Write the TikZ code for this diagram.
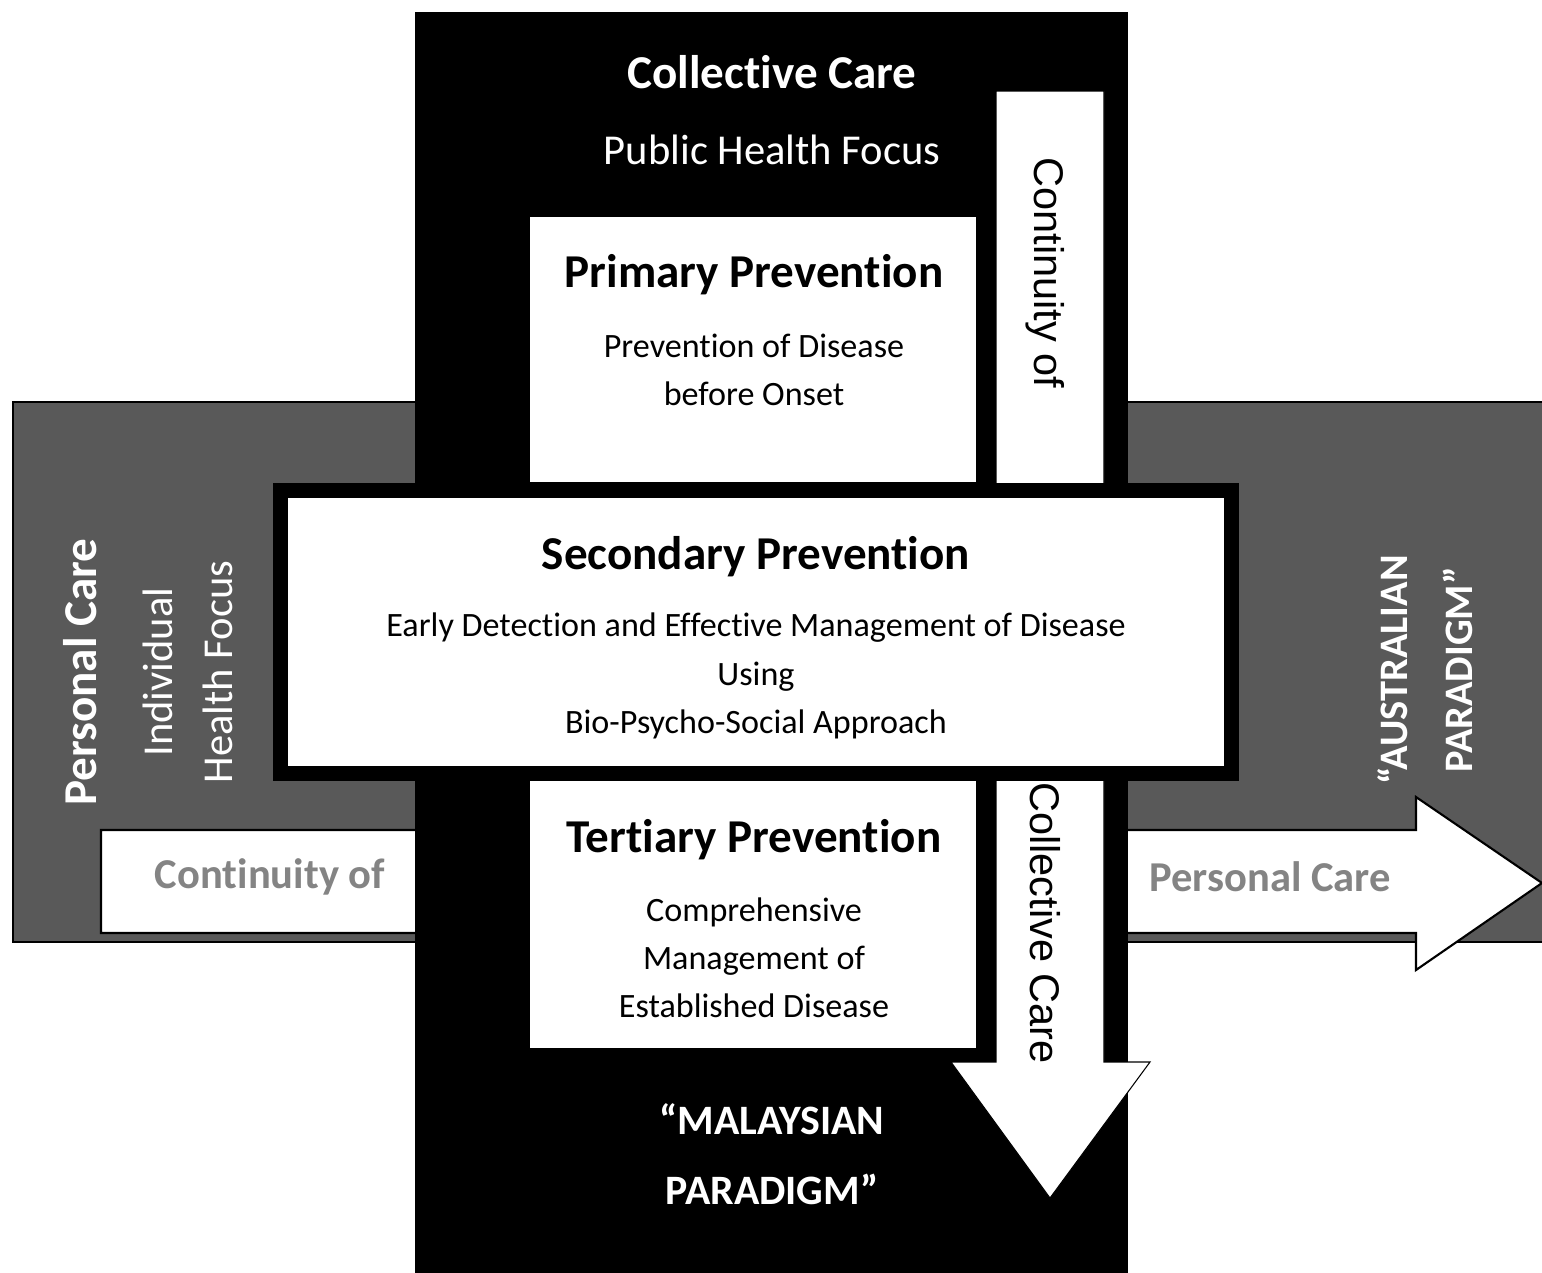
\documentclass[tikz,border=0pt]{standalone}
\usepackage{fontspec}
\setmainfont{Carlito}[Ligatures=NoCommon]
\newfontfamily\arialfont{Liberation Sans}
\usepackage{xcolor}
\usetikzlibrary{positioning}
\definecolor{bandgrey}{HTML}{595959}
\definecolor{textgrey}{HTML}{848484}

\begin{document}
\begin{tikzpicture}[x=0.01cm,y=-0.01cm,
    head/.style={font=\fontsize{13.4}{16}\selectfont\bfseries},
    body/.style={font=\fontsize{9.7}{13.7}\selectfont,align=center},
    label/.style={font=\fontsize{12.1}{17}\selectfont,align=center,text=white},
    blocktext/.style={font=\fontsize{12.1}{17}\selectfont\bfseries,text=textgrey},
    striptext/.style={font=\arialfont\fontsize{11.8}{14}\selectfont},
    whitebox/.style={fill=white,draw=black,line width=0.3pt}]
    \useasboundingbox (0,0) rectangle (1542,1272);
    % grey band and the arrow through it
    \draw[fill=bandgrey,line width=0.6pt] (13,402) rectangle (1560,942);
    \draw[whitebox,line width=0.6pt] (101,830) -- (1416,830) -- (1416,797)
        -- (1542,883) -- (1416,970) -- (1416,933) -- (101,933) -- cycle;
    % black column
    \fill[black] (415,12) rectangle (1128,1290);
    \draw[whitebox] (996,91) -- (1104,91) -- (1104,1062) -- (1150,1062)
        -- (1050,1198) -- (951,1062) -- (996,1062) -- cycle;
    % the three prevention boxes
    \draw[whitebox] (529,216) rectangle (977,483);
    \draw[whitebox] (529,780) rectangle (977,1049);
    \draw[fill=white,draw=black,line width=4pt] (280.5,490.5) rectangle (1231.5,773.5);

    \node[head,text=white] (cc) at (772,72) {Collective Care};
    \node[label] (phf) at (772,150) {Public Health Focus};

    \node[head] (prim) at (754,275) {Primary Prevention};
    \node[body] (primtxt) at (754,370) {Prevention of Disease\\before Onset};

    \node[head] (sec) at (756,557) {Secondary Prevention};
    \node[body] (sectxt) at (756,676) {Early Detection and Effective Management of Disease\\Using\\Bio-Psycho-Social Approach};

    \node[head] (tert) at (754,840) {Tertiary Prevention};
    \node[body] (terttxt) at (754,958) {Comprehensive\\Management of\\Established Disease};

    \node[label,font=\fontsize{11.9}{20}\selectfont\bfseries] (malay) at (772,1154) {“MALAYSIAN\\PARADIGM”};
    \node[label,font=\fontsize{11.5}{18.5}\selectfont\bfseries,rotate=90] (austr) at (1425,670) {“AUSTRALIAN\\PARADIGM”};

    \node[head,text=white,rotate=90] (pc) at (80,672) {Personal Care};
    \node[label,rotate=90] (ihf) at (188,672) {Individual\\Health Focus};

    \node[blocktext] (contl) at (270,877) {Continuity of};
    \node[blocktext] (pcr) at (1270,877) {Personal Care};

    \node[striptext,rotate=-90] (contv) at (1045,273) {Continuity of};
    \node[striptext,rotate=-90] (ccv) at (1045,923) {Collective Care};
\end{tikzpicture}
\end{document}
